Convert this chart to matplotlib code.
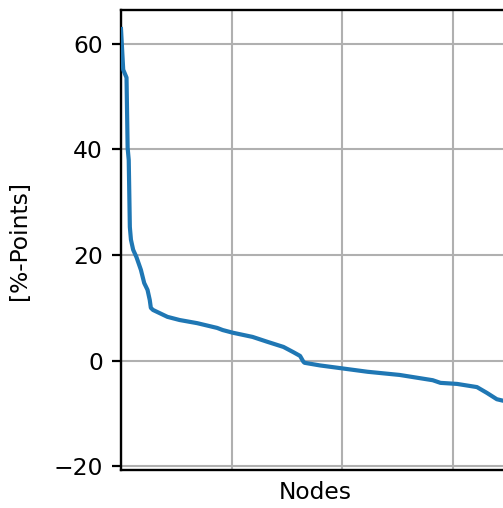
import numpy as np
import matplotlib
matplotlib.use("Agg")
import matplotlib.pyplot as plt

# sorted node values (rank -> %-points)
node_rank = [0, 2, 5, 6, 7, 8, 9, 11, 14, 18, 21, 24, 26, 27, 29, 35, 42, 53, 69,
             87, 92, 101, 119, 132, 147, 156, 162, 165, 166, 180, 198, 223, 252,
             282, 289, 304, 322, 331, 340, 346, 352]
node_value = [62.8, 55.1, 53.6, 40.3, 38.0, 25.3, 22.9, 21.0, 19.6, 17.2, 14.7, 13.4,
              11.5, 10.0, 9.6, 9.0, 8.3, 7.7, 7.1, 6.2, 5.8, 5.3, 4.5, 3.6, 2.6, 1.6,
              0.9, -0.2, -0.4, -0.9, -1.4, -2.1, -2.7, -3.7, -4.2, -4.4, -5.0, -6.1,
              -7.3, -7.6, -8.0]

y_ticks = [-20, 0, 20, 40, 60]
x_ticks = [0, 100, 200, 300]

fig = plt.figure(figsize=(5.03, 5.08), dpi=100)
ax = fig.add_axes([121 / 503, 1 - 470 / 508, 388 / 503, 460 / 508])

ax.plot(node_rank, node_value, color="#1f77b4", lw=3.0, zorder=3)

ax.set_xlim(0, 351)
ax.set_ylim(-20.7, 66.4)
ax.set_xticks(x_ticks)
ax.set_yticks(y_ticks)
ax.grid(True, color="#b0b0b0", lw=1.5)
ax.set_axisbelow(True)

ax.tick_params(axis="x", length=0, labelbottom=False)
ax.tick_params(axis="y", length=6.5, width=1.6, pad=6.5, labelsize=16.8)
for s in ax.spines.values():
    s.set_linewidth(1.7)

ax.set_xlabel("Nodes", fontsize=16.8, labelpad=8)
ax.set_ylabel("[%-Points]", fontsize=16.8, labelpad=16)

fig.savefig("out.png", dpi=100)
